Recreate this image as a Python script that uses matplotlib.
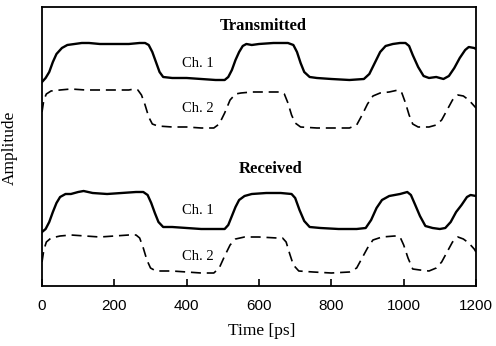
import matplotlib
matplotlib.use("Agg")
import matplotlib.pyplot as plt

# Waveforms: (time in ps, amplitude in arbitrary units)
tx_ch1 = [
    (0, 20.4), (10, 20.8), (20, 21.4), (30, 22.4), (40, 23.2), (55, 23.8),
    (70, 24.1), (90, 24.2), (110, 24.3), (130, 24.3), (160, 24.2), (200, 24.2),
    (240, 24.2), (270, 24.3), (285, 24.3), (295, 24.1), (305, 23.4), (315, 22.4),
    (325, 21.4), (335, 20.9), (360, 20.8), (400, 20.8), (440, 20.7), (480, 20.6),
    (505, 20.6), (515, 20.9), (525, 21.6), (535, 22.6), (545, 23.4), (555, 24.0),
    (565, 24.2), (580, 24.1), (600, 24.2), (640, 24.3), (680, 24.3), (695, 24.1),
    (705, 23.4), (715, 22.3), (725, 21.4), (740, 20.9), (760, 20.8), (800, 20.7),
    (850, 20.6), (890, 20.7), (905, 21.2), (920, 22.3), (935, 23.4), (950, 24.0),
    (970, 24.2), (990, 24.3), (1005, 24.3), (1015, 24.0), (1025, 23.1),
    (1040, 21.9), (1055, 21.0), (1070, 20.8), (1090, 20.9), (1110, 20.7),
    (1125, 21.0), (1140, 21.8), (1155, 22.8), (1170, 23.6), (1180, 23.9),
    (1195, 23.8), (1200, 23.7),
]
tx_ch2 = [
    (0, 17.4), (5, 18.6), (12, 19.2), (25, 19.5), (50, 19.6), (80, 19.7),
    (120, 19.6), (160, 19.6), (200, 19.6), (240, 19.6), (255, 19.7), (265, 19.6),
    (275, 19.1), (285, 18.1), (295, 16.9), (305, 16.2), (320, 16.0), (360, 15.9),
    (400, 15.9), (440, 15.8), (475, 15.8), (490, 16.2), (505, 17.3), (520, 18.6),
    (535, 19.2), (550, 19.3), (580, 19.4), (620, 19.4), (660, 19.4), (670, 19.2),
    (680, 18.3), (690, 17.1), (700, 16.3), (715, 15.9), (760, 15.8), (800, 15.8),
    (850, 15.8), (870, 16.1), (885, 17.1), (900, 18.2), (915, 19.0), (935, 19.3),
    (960, 19.4), (985, 19.6), (995, 19.3), (1005, 18.3), (1015, 17.1),
    (1025, 16.2), (1040, 15.9), (1070, 15.9), (1090, 16.1), (1105, 16.6),
    (1120, 17.6), (1135, 18.6), (1150, 19.1), (1165, 19.0), (1180, 18.6),
    (1195, 18.0), (1200, 17.8),
]
rx_ch1 = [
    (0, 5.4), (10, 5.7), (20, 6.4), (30, 7.4), (40, 8.3), (50, 8.9),
    (65, 9.2), (80, 9.2), (100, 9.4), (115, 9.5), (140, 9.3), (180, 9.2),
    (220, 9.3), (260, 9.4), (280, 9.4), (292, 9.1), (302, 8.3), (312, 7.3),
    (322, 6.4), (335, 5.9), (360, 5.9), (400, 5.8), (440, 5.7), (480, 5.7),
    (505, 5.7), (515, 6.1), (525, 7.0), (535, 7.9), (545, 8.6), (560, 9.0),
    (580, 9.2), (620, 9.3), (660, 9.3), (690, 9.2), (700, 8.8), (712, 7.6),
    (725, 6.5), (740, 5.9), (770, 5.8), (820, 5.7), (870, 5.7), (895, 5.8),
    (910, 6.6), (925, 7.8), (940, 8.6), (960, 9.0), (990, 9.2), (1010, 9.4),
    (1020, 9.1), (1032, 8.1), (1045, 7.0), (1060, 6.0), (1080, 5.8),
    (1100, 5.7), (1115, 5.8), (1130, 6.4), (1145, 7.4), (1160, 8.1),
    (1175, 8.9), (1185, 9.1), (1200, 9.0),
]
rx_ch2 = [
    (0, 2.4), (5, 3.6), (12, 4.4), (25, 4.8), (50, 5.0), (80, 5.1),
    (120, 5.0), (160, 4.9), (200, 5.0), (240, 5.1), (260, 5.1), (270, 4.8),
    (280, 3.8), (290, 2.6), (300, 1.8), (315, 1.5), (360, 1.5), (400, 1.4),
    (440, 1.3), (475, 1.3), (490, 1.8), (505, 3.0), (520, 4.1), (535, 4.7),
    (560, 4.9), (600, 4.9), (650, 4.8), (665, 4.8), (675, 4.4), (685, 3.2),
    (695, 2.1), (710, 1.5), (750, 1.4), (800, 1.3), (850, 1.4), (870, 1.8),
    (885, 2.8), (900, 3.8), (915, 4.6), (940, 4.9), (975, 5.0), (990, 4.9),
    (1000, 4.1), (1012, 2.8), (1025, 1.7), (1045, 1.6), (1070, 1.5),
    (1090, 1.8), (1105, 2.4), (1120, 3.4), (1135, 4.4), (1150, 4.9),
    (1165, 4.7), (1180, 4.3), (1195, 3.7), (1200, 3.4),
]

x_ticks = [0, 200, 400, 600, 800, 1000, 1200]

SERIF = "Liberation Serif"
SANS = "Liberation Sans"

fig = plt.figure(figsize=(4.96, 3.46), dpi=100)
ax = fig.add_axes([0.0847, 0.1734, 0.875, 0.8064])


def draw(series, **kw):
    t = [p[0] for p in series]
    a = [p[1] for p in series]
    ax.plot(t, a, color="black", **kw)


draw(tx_ch1, lw=1.7)
draw(rx_ch1, lw=1.7)
draw(tx_ch2, lw=1.2, dashes=(6, 3.5))
draw(rx_ch2, lw=1.2, dashes=(6, 3.5))

ax.set_xlim(0, 1200)
ax.set_ylim(0, 27.9)
ax.set_xticks(x_ticks)
ax.set_xticklabels([str(v) for v in x_ticks], fontfamily=SANS, fontsize=11)
ax.set_yticks([])
ax.tick_params(axis="x", direction="in", length=5, width=1.2, pad=9)
for s in ax.spines.values():
    s.set_linewidth(1.3)

# panel labels
ax.text(611, 26.0, "Transmitted", fontfamily=SERIF, fontweight="bold",
        fontsize=12, ha="center", va="center")
ax.text(632, 11.7, "Received", fontfamily=SERIF, fontweight="bold",
        fontsize=12, ha="center", va="center")
for yy, lab in [(22.2, "Ch. 1"), (17.7, "Ch. 2"), (7.5, "Ch. 1"), (3.0, "Ch. 2")]:
    ax.text(430, yy, lab, fontfamily=SERIF, fontsize=10.5,
            ha="center", va="center")

# axis titles
fig.text(261.5 / 496, 1 - 331 / 346, "Time [ps]", fontfamily=SERIF,
         fontsize=12.5, ha="center", va="center")
fig.text(10 / 496, 1 - 148 / 346, "Amplitude", fontfamily=SERIF,
         fontsize=12.5, rotation=90, ha="center", va="center")

fig.savefig("out.png", dpi=100)
